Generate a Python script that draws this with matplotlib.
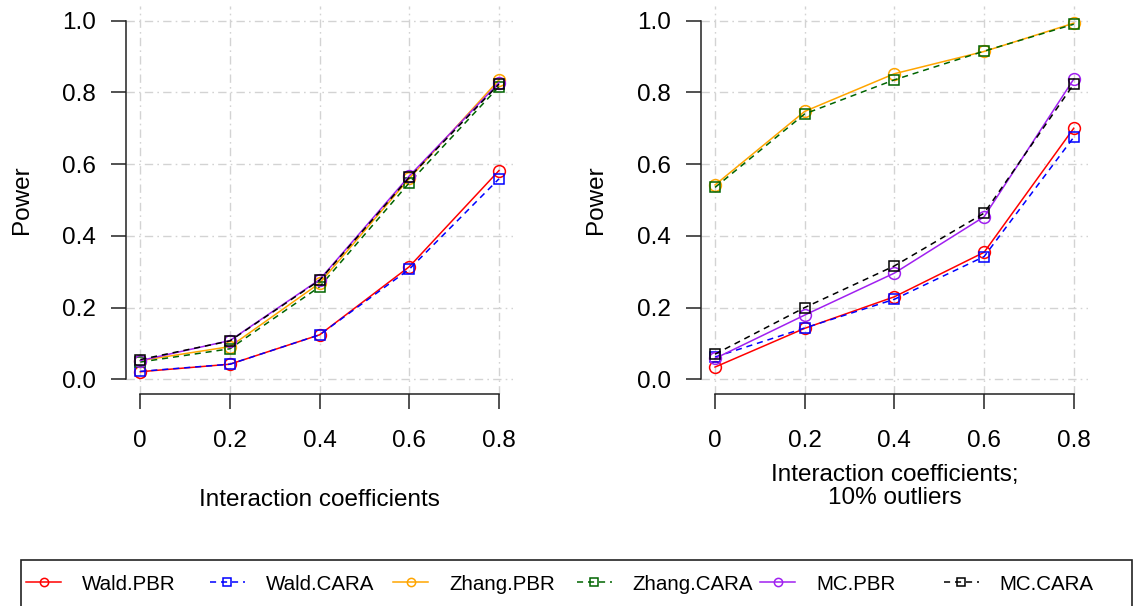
import matplotlib
matplotlib.use("Agg")
import matplotlib.pyplot as plt
from matplotlib.patches import Rectangle

plt.rcParams['font.family'] = ['Liberation Sans', 'DejaVu Sans']

coef = [0, 0.2, 0.4, 0.6, 0.8]
coef_labels = ["0", "0.2", "0.4", "0.6", "0.8"]
power_ticks = [0.0, 0.2, 0.4, 0.6, 0.8, 1.0]
power_labels = ["0.0", "0.2", "0.4", "0.6", "0.8", "1.0"]

names = ["Wald.PBR", "Wald.CARA", "Zhang.PBR", "Zhang.CARA", "MC.PBR", "MC.CARA"]

# panel 1: no outliers
wald_pbr_1 = [0.021, 0.042, 0.124, 0.314, 0.582]
wald_cara_1 = [0.022, 0.042, 0.124, 0.307, 0.559]
zhang_pbr_1 = [0.052, 0.091, 0.268, 0.560, 0.835]
zhang_cara_1 = [0.048, 0.085, 0.258, 0.548, 0.816]
mc_pbr_1 = [0.052, 0.108, 0.278, 0.567, 0.827]
mc_cara_1 = [0.055, 0.107, 0.276, 0.563, 0.823]

# panel 2: 10% outliers
wald_pbr_2 = [0.034, 0.142, 0.230, 0.354, 0.700]
wald_cara_2 = [0.062, 0.143, 0.223, 0.342, 0.675]
zhang_pbr_2 = [0.542, 0.747, 0.852, 0.914, 0.993]
zhang_cara_2 = [0.535, 0.740, 0.835, 0.915, 0.990]
mc_pbr_2 = [0.058, 0.179, 0.296, 0.453, 0.837]
mc_cara_2 = [0.070, 0.200, 0.316, 0.463, 0.823]

colors = ["red", "blue", "orange", "darkgreen", "#A020F0", "black"]
markers = ["o", "s", "o", "s", "o", "s"]
dashed = [False, True, False, True, False, True]

W, H = 1135, 606
fig = plt.figure(figsize=(W / 100, H / 100), dpi=100)
ax1 = fig.add_axes([125.95 / W, 1 - 393.6 / H, 387.4 / W, 387.3 / H])
ax2 = fig.add_axes([700.7 / W, 1 - 393.6 / H, 387.4 / W, 387.3 / H])

panels = [
    (ax1, [wald_pbr_1, wald_cara_1, zhang_pbr_1, zhang_cara_1, mc_pbr_1, mc_cara_1],
     "Interaction coefficients", -0.2747),
    (ax2, [wald_pbr_2, wald_cara_2, zhang_pbr_2, zhang_cara_2, mc_pbr_2, mc_cara_2],
     "Interaction coefficients;\n10% outliers", -0.24),
]

handles = []
for ax, series, xlab, ypos in panels:
    ax.set_xlim(-0.032, 0.832)
    ax.set_ylim(-0.04, 1.04)
    ax.set_xticks(coef)
    ax.set_xticklabels(coef_labels)
    ax.set_yticks(power_ticks)
    ax.set_yticklabels(power_labels)
    ax.grid(True, color="lightgray", linestyle=(0, (6, 3, 1.2, 3)), linewidth=1)
    ax.set_axisbelow(True)
    for s in ["top", "right"]:
        ax.spines[s].set_visible(False)
    for s in ["left", "bottom"]:
        ax.spines[s].set_linewidth(1.1)
        ax.spines[s].set_color("#222222")
    ax.spines["left"].set_bounds(0, 1)
    ax.spines["bottom"].set_bounds(0, 0.8)
    ax.tick_params(length=11, width=1.1, color="#222222", labelsize=17.5)
    ax.tick_params(axis="x", pad=15)
    ax.tick_params(axis="y", pad=10.5)
    ax.set_xlabel(xlab, fontsize=17.5, linespacing=1.1)
    ax.xaxis.label.set_va("center")
    ax.xaxis.set_label_coords(0.5, ypos)
    ax.set_ylabel("Power", fontsize=17.5)
    ax.yaxis.label.set_va("center")
    ax.yaxis.set_label_coords(-0.269, 0.5)
    hs = []
    for vals, name, c, m, d in zip(series, names, colors, markers, dashed):
        ls = (0, (4, 3.2)) if d else "-"
        ms = 8.5 if m == "o" else 7.3
        ln, = ax.plot(coef, vals, color=c, linestyle=ls, linewidth=1.1,
                      marker=m, markersize=ms, markerfacecolor="none",
                      markeredgecolor=c, markeredgewidth=1.1, label=name)
        hs.append(ln)
    handles = hs

# legend: one entry per column at equal spacing, with a common frame
fig.add_artist(Rectangle((21 / W, -0.1), (1132 - 21) / W, 0.1 + 1 - 560 / H,
                         transform=fig.transFigure, fill=False,
                         edgecolor="#222222", linewidth=1.2))
col_x = [26, 209.5, 393, 576.5, 760, 943.5]
for h, x in zip(handles, col_x):
    leg = fig.legend([h], [h.get_label()], loc="center left",
                     bbox_to_anchor=(x / W, 1 - 584 / H), frameon=False,
                     fontsize=14.8, handlelength=1.72, handletextpad=1.0,
                     borderpad=0, borderaxespad=0, markerscale=0.7)

fig.savefig("out.png", dpi=100)
